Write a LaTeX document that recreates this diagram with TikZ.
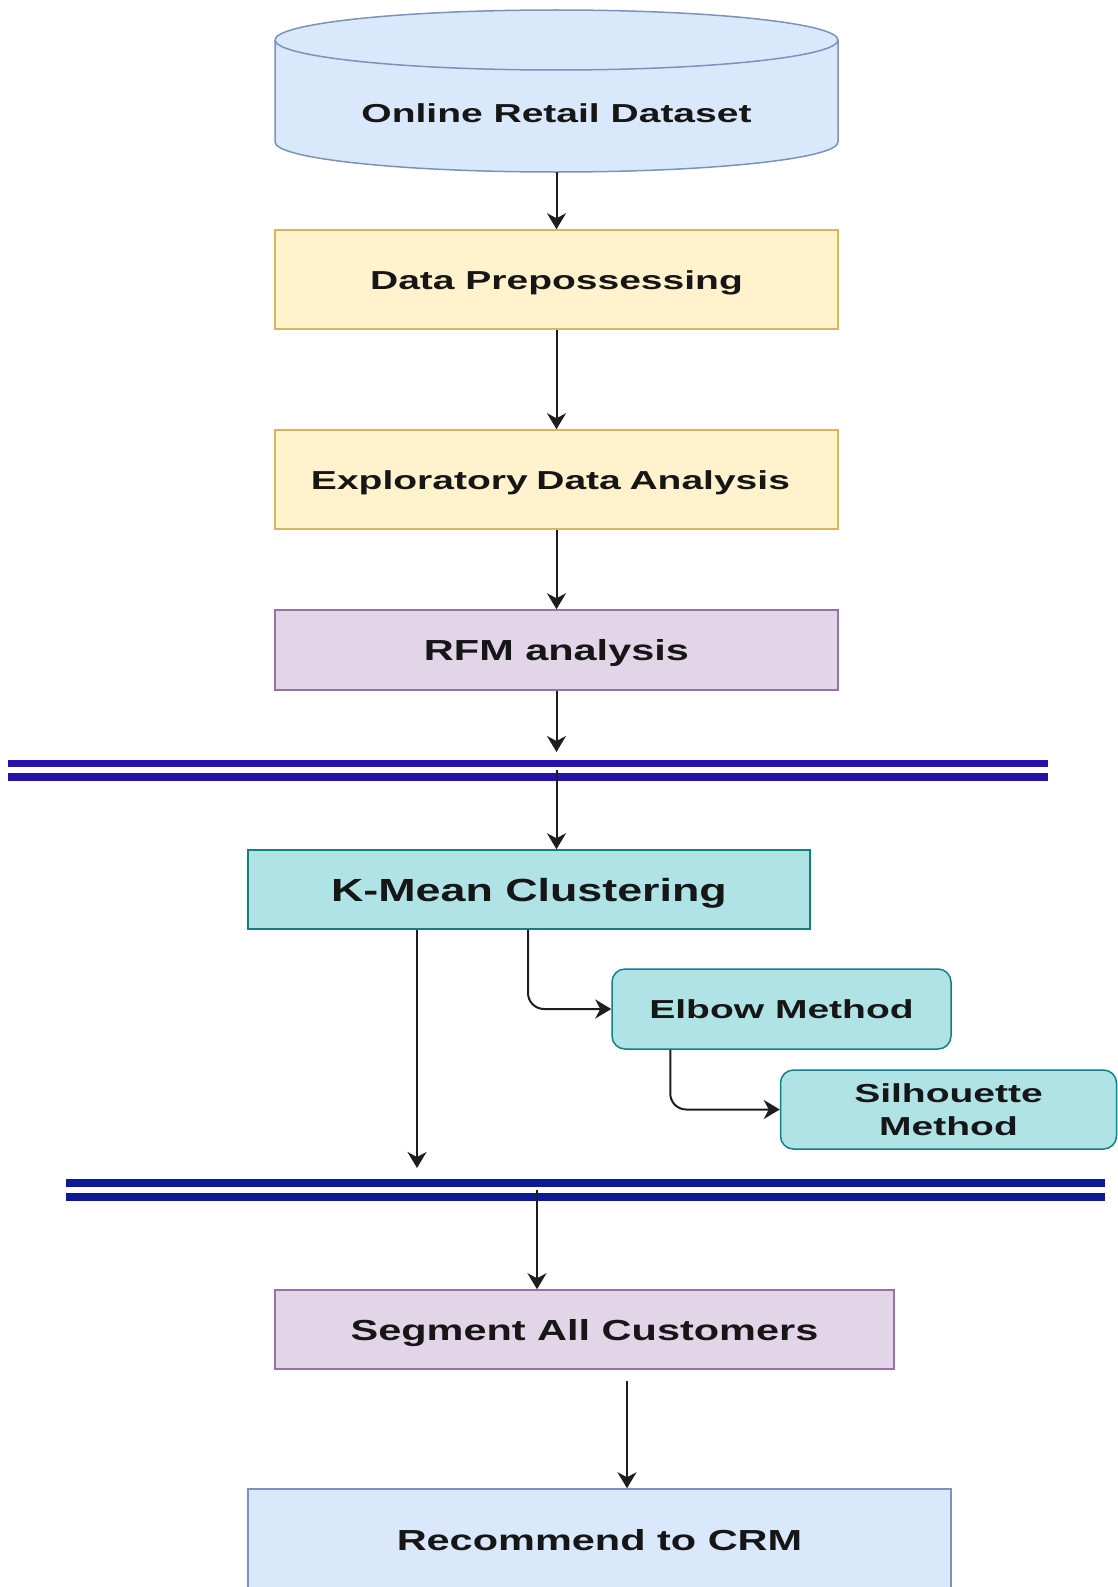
\documentclass[tikz,border=0pt]{standalone}
\usepackage{fontspec}
\newfontfamily\boxfont[FakeStretch=1.5]{Liberation Sans}
\newfontfamily\midboxfont[FakeStretch=1.43]{Liberation Sans}
\newfontfamily\bigboxfont[FakeStretch=1.4]{Liberation Sans}
\usetikzlibrary{arrows.meta,calc}

\definecolor{blueFill}{HTML}{DAE8FC}
\definecolor{blueLine}{HTML}{7A93BA}
\definecolor{yellowFill}{HTML}{FFF2CC}
\definecolor{yellowLine}{HTML}{D6B656}
\definecolor{purpleFill}{HTML}{E1D5E7}
\definecolor{purpleLine}{HTML}{9673A6}
\definecolor{tealFill}{HTML}{B0E3E6}
\definecolor{tealLine}{HTML}{0E8088}
\definecolor{barOne}{RGB}{40,16,170}
\definecolor{barTwo}{RGB}{12,26,150}
\definecolor{txt}{HTML}{161616}
\definecolor{wire}{HTML}{1E1E1E}

\tikzset{
  box/.style={draw, line width=1.5pt, inner sep=0pt, minimum width=563pt,
    minimum height=99pt, text=txt,
    font=\boxfont\bfseries\fontsize{26}{33}\selectfont,
    text height=19pt, text depth=0pt},
  midtext/.style={font=\midboxfont\bfseries\fontsize{29}{35}\selectfont,
    text height=21pt, text depth=0pt},
  yellowbox/.style={box, fill=yellowFill, draw=yellowLine},
  purplebox/.style={box, fill=purpleFill, draw=purpleLine},
  bluebox/.style={box, fill=blueFill, draw=blueLine},
  tealbox/.style={box, fill=tealFill, draw=tealLine},
  arr/.style={draw=wire, line width=2pt,
    -{Stealth[length=16pt, width=19pt, inset=5pt]}},
  bar/.style={line width=7.5pt},
}

\begin{document}
\begin{tikzpicture}[x=1pt, y=1pt]
\useasboundingbox (0,0) rectangle (1118,-1587);

% database cylinder
\path[fill=blueFill, draw=blueLine, line width=1.5pt]
  (275,-40) -- (275,-142)
  arc[start angle=180, end angle=360, x radius=281.5, y radius=30]
  -- (838,-40)
  arc[start angle=0, end angle=180, x radius=281.5, y radius=30] -- cycle;
\draw[blueLine, line width=1.5pt]
  (275,-40) arc[start angle=180, end angle=360, x radius=281.5, y radius=30];
\node[inner sep=0pt, minimum width=563pt, minimum height=162pt] (dbshape) at (556.5,-91) {};
\node[text=txt, font=\boxfont\bfseries\fontsize{26}{33}\selectfont,
  text height=19pt, text depth=0pt, inner sep=0pt] (db) at (556.5,-113) {Online Retail Dataset};

% pipeline steps
\node[yellowbox] (dp) at (556.5,-279.5) {Data Prepossessing};
\node[yellowbox, align=center, text width=563pt] (eda) at (556.5,-479.5) {\hspace*{-12pt}Exploratory Data Analysis};
\node[purplebox, midtext, minimum height=80pt] (rfm) at (556.5,-650) {RFM analysis};

\node[tealbox, minimum width=562pt, minimum height=79pt,
  font=\bigboxfont\bfseries\fontsize{32}{38}\selectfont, text height=23pt]
  (kmean) at (529,-889.5) {K-Mean Clustering};
\node[tealbox, rounded corners=13pt, minimum width=339pt, minimum height=80pt]
  (elbow) at (781.5,-1009) {Elbow Method};
\node[tealbox, rounded corners=13pt, minimum width=336pt, minimum height=79pt,
  align=center, text height=, text depth=]
  (sil) at (948.5,-1109.5) {Silhouette\\Method};

\node[purplebox, midtext, minimum width=619pt, minimum height=79pt] (seg) at (584.5,-1329.5) {Segment All Customers};
\node[bluebox, midtext, minimum width=703pt, minimum height=102pt] (rec) at (599.5,-1540) {Recommend to CRM};

% separator bars
\draw[bar, barOne] (8,-763.5) -- (1048,-763.5);
\draw[bar, barOne] (8,-777) -- (1048,-777);
\draw[bar, barTwo] (66,-1183) -- (1105,-1183);
\draw[bar, barTwo] (66,-1197) -- (1105,-1197);

% free ends at the separator bars
\coordinate (barInA) at (556.5,-752);
\coordinate (barOutA) at (556.5,-770);
\coordinate (barInB) at (417,-1168);
\coordinate (barOutB) at (537,-1190);
\coordinate (segOut) at (627,-1381);

% connectors
\draw[arr] (dbshape.south) -- (dp.north);
\draw[arr] (dp.south) -- (eda.north);
\draw[arr] (eda.south) -- (rfm.north);
\draw[arr] (rfm.south) -- (barInA);
\draw[arr] (barOutA) -- (kmean.north -| barOutA);
\draw[arr] (barInB |- kmean.south) -- (barInB);
\draw[arr, rounded corners=16pt] ([xshift=-1pt]kmean.south) |- (elbow.west);
\draw[arr, rounded corners=16pt] ([xshift=59pt]elbow.south west) |- (sil.west);
\draw[arr] (barOutB) -- (barOutB |- seg.north);
\draw[arr] (segOut) -- (segOut |- rec.north);
\end{tikzpicture}
\end{document}
